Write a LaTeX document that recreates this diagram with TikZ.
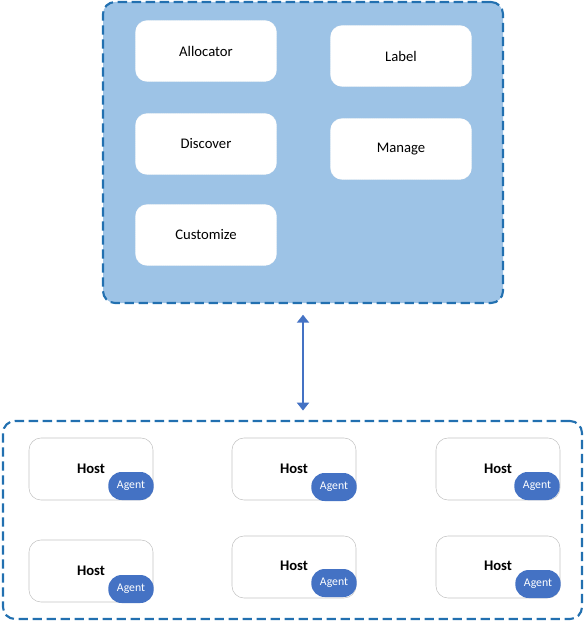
\documentclass[tikz,border=0pt]{standalone}
\usepackage{fontspec}
\setmainfont{Carlito}
\usepackage{xcolor}
\usepackage{tikz}
\usetikzlibrary{arrows.meta, positioning, calc}

\definecolor{panelblue}{HTML}{9DC3E6}
\definecolor{edgeblue}{HTML}{2270B0}
\definecolor{agentblue}{HTML}{4472C4}
\definecolor{hostgray}{HTML}{C4C4C4}

\begin{document}
\begin{tikzpicture}[
        x=0.75pt, y=-0.75pt,
        panel/.style={draw=edgeblue, line width=1.6pt, dash pattern=on 7pt off 3.5pt,
            rounded corners=9pt},
        svc/.style={rectangle, draw=gray!12, densely dotted, fill=white, rounded corners=9pt,
            minimum width=106pt, minimum height=46pt, font=\fontsize{11}{13}\selectfont},
        hostbox/.style={rectangle, draw=hostgray, thin, fill=white, rounded corners=9pt,
            minimum width=93pt, minimum height=46.5pt},
        hostlbl/.style={font=\fontsize{11}{13}\selectfont\bfseries},
        agent/.style={rectangle, fill=agentblue, text=white, rounded corners=10pt,
            minimum width=34pt, minimum height=21pt, inner sep=1pt,
            font=\fontsize{8.8}{10}\selectfont},
        link/.style={draw=agentblue, line width=2.2pt,
            {Triangle[length=6pt,width=9pt]}-{Triangle[length=6pt,width=9pt]}}
        ]
        \useasboundingbox (0,0) rectangle (585,623);

        %% Control plane
        \node[panel, fill=panelblue, minimum width=300pt, minimum height=225.75pt] (ctrl) at (303,152.5) {};
        \node[svc] (alloc)  at (206,51)  {Allocator};
        \node[svc] (label)  at (401,56)  {Label};
        \node[svc] (disc)   at (206,144) {Discover};
        \node[svc] (manage) at (401,149) {Manage};
        \node[svc] (custom) at (206,235) {Customize};

        %% Hosts
        \node[panel, fill=white, minimum width=434.25pt, minimum height=148.5pt] (farm) at (292.5,520) {};

        \node[hostbox] (h1) at (91,469)  {};
        \node[hostbox] (h2) at (294,469) {};
        \node[hostbox] (h3) at (498,469) {};
        \node[hostbox] (h4) at (91,571)  {};
        \node[hostbox] (h5) at (294,567) {};
        \node[hostbox] (h6) at (498,567) {};

        \node[hostlbl] (h1t) at (91,469)  {Host};
        \node[hostlbl] (h2t) at (294,469) {Host};
        \node[hostlbl] (h3t) at (498,469) {Host};
        \node[hostlbl] (h4t) at (91,571)  {Host};
        \node[hostlbl] (h5t) at (294,566) {Host};
        \node[hostlbl] (h6t) at (498,566) {Host};

        \node[agent] (a1) at (131,486) {Agent};
        \node[agent] (a2) at (334,487) {Agent};
        \node[agent] (a3) at (537,486) {Agent};
        \node[agent] (a4) at (131,589) {Agent};
        \node[agent] (a5) at (334,583) {Agent};
        \node[agent] (a6) at (538,584) {Agent};

        %% Link between control plane and hosts
        \draw[link, shorten <=8pt, shorten >=7pt] (ctrl.south) -- (ctrl.south |- farm.north);

    \end{tikzpicture}
\end{document}
